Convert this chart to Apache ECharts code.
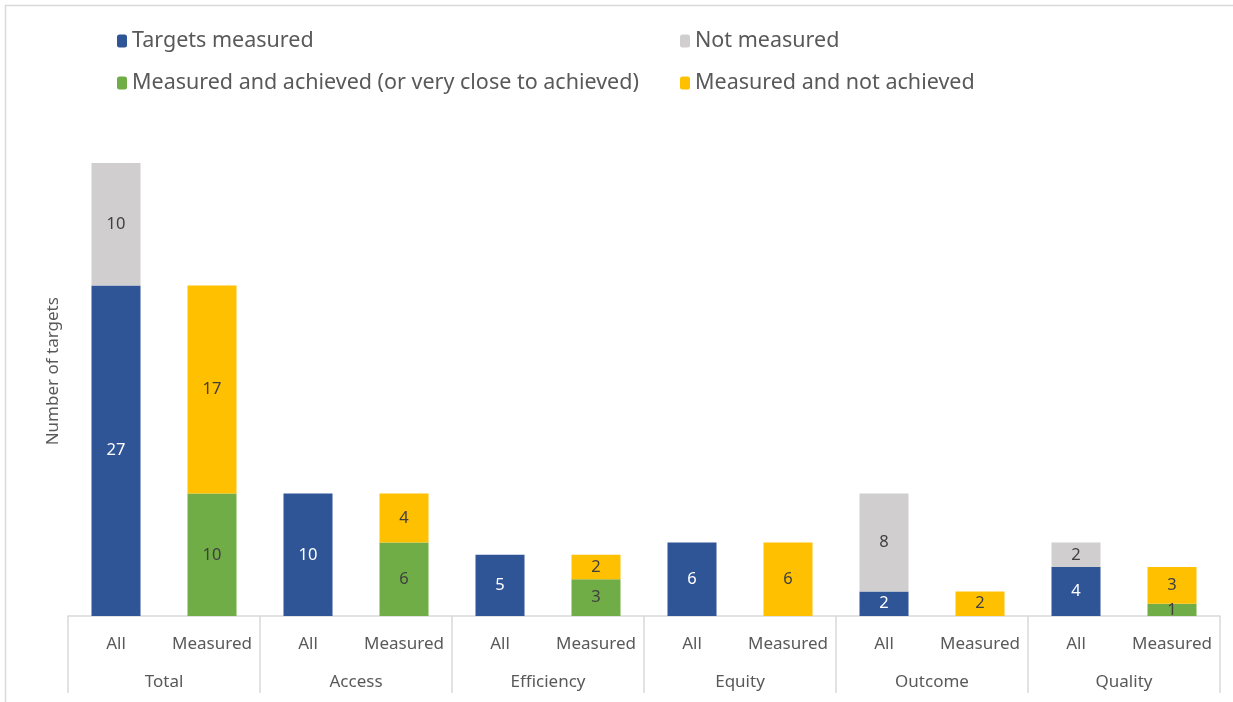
<!DOCTYPE html>
<html><head><meta charset="utf-8">
<script src="https://cdn.jsdelivr.net/npm/echarts@6/dist/echarts.min.js"></script>
<style>html,body{margin:0;padding:0;background:#fff}#c{width:1233px;height:702px}</style>
</head><body><div id="c"></div>
<script>
const subCategories = ['All','Measured','All','Measured','All','Measured','All','Measured','All','Measured','All','Measured'];
const groups = ['Total','Access','Efficiency','Equity','Outcome','Quality'];
const targetsMeasured = [27,'-',10,'-',5,'-',6,'-',2,'-',4,'-'];
const notMeasured = [10,'-','-','-','-','-','-','-',8,'-',2,'-'];
const achieved = ['-',10,'-',6,'-',3,'-','-','-','-','-',1];
const notAchieved = ['-',17,'-',4,'-',2,'-',6,'-',2,'-',3];
const seriesNames = ['Targets measured','Not measured','Measured and achieved (or very close to achieved)','Measured and not achieved'];
const colors = ['#2F5597','#D0CECE','#70AD47','#FFC000'];
const FONT = 'Noto Sans';
const TXT = '#595959';

function mk(name, data, color, labelColor){
  return {name, type:'bar', stack:'s', data, barWidth:49,
    itemStyle:{color},
    label:{show:true, position:'inside', color:labelColor, fontFamily:FONT, fontSize:16.5},
    emphasis:{disabled:true}, xAxisIndex:0};
}
const legendPos = [[112,25],[675,25],[112,67],[675,67]];
const chart = echarts.init(document.getElementById('c'));
chart.setOption({
  animation:false,
  textStyle:{fontFamily:FONT},
  graphic:[{type:'rect', shape:{x:5.5,y:5.5,width:1300,height:900}, style:{fill:null, stroke:'#D9D9D9', lineWidth:1.5}, silent:true}],
  legend: seriesNames.map((n,i)=>({data:[n], left:legendPos[i][0], top:legendPos[i][1], itemWidth:10, itemHeight:13, itemGap:6,
    textStyle:{fontFamily:FONT, fontSize:21.5, color:TXT}, selectedMode:false})),
  grid:{left:68, right:13, top:126.4, bottom:86},
  xAxis:[
    {type:'category', data:subCategories, position:'bottom',
     axisLine:{show:false}, axisTick:{show:false},
     axisLabel:{margin:20, fontFamily:FONT, fontSize:17, color:TXT, interval:0}},
    {type:'category', data:groups, position:'bottom',
     axisLine:{show:true, lineStyle:{color:'#D9D9D9', width:1.5}},
     axisTick:{show:true, length:77, inside:false, lineStyle:{color:'#D9D9D9', width:1.5}},
     axisLabel:{margin:58, fontFamily:FONT, fontSize:17, color:TXT, interval:0}}
  ],
  yAxis:{type:'value', min:0, max:40, axisLine:{show:false}, axisTick:{show:false}, axisLabel:{show:false}, splitLine:{show:false},
    name:'Number of targets', nameLocation:'middle', nameGap:6, nameRotate:90,
    nameTextStyle:{fontFamily:FONT, fontSize:17, color:TXT}},
  series:[
    mk(seriesNames[0], targetsMeasured, colors[0], '#FFFFFF'),
    mk(seriesNames[1], notMeasured, colors[1], '#404040'),
    mk(seriesNames[2], achieved, colors[2], '#404040'),
    mk(seriesNames[3], notAchieved, colors[3], '#404040')
  ]
});
</script></body></html>
